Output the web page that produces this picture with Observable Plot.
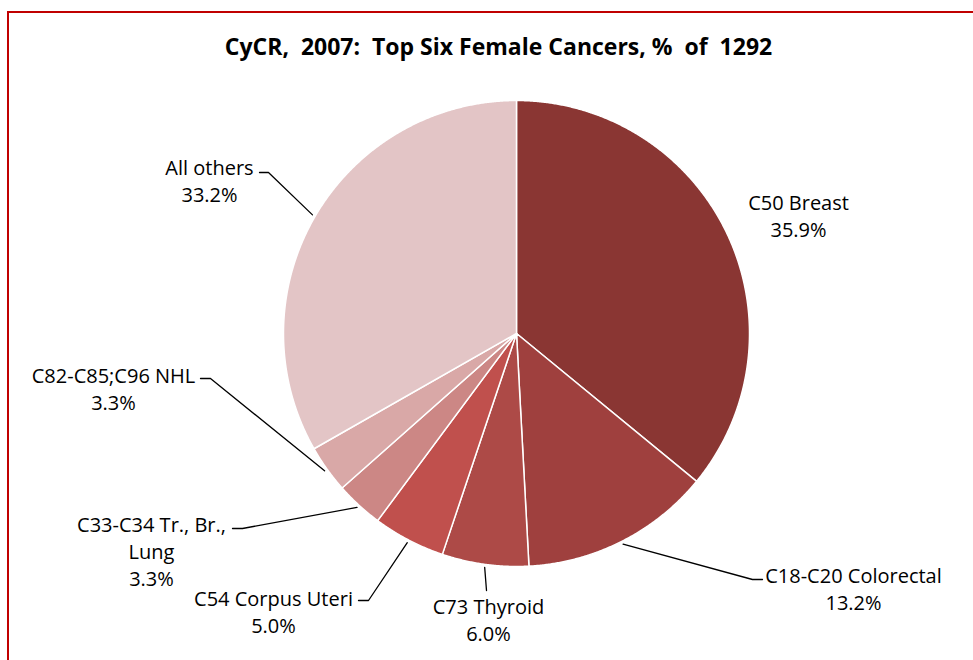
<!DOCTYPE html>
<html><head><meta charset="utf-8">
<script src="https://cdn.jsdelivr.net/npm/d3@7"></script>
<script src="https://cdn.jsdelivr.net/npm/@observablehq/plot@0.6"></script>
<style>
body{margin:0;background:#fff;overflow:hidden;}
#wrap{position:relative;width:973px;height:660px;overflow:hidden;}
#border{position:absolute;left:7px;top:11px;width:1000px;height:700px;border:2px solid #C00000;box-sizing:border-box;}
#chart{position:absolute;left:0;top:0;}
svg text{white-space:pre;}
</style></head><body>
<div id="wrap"><div id="border"></div><div id="chart"></div></div>
<script>
// ---- data ----
const title = "CyCR,  2007:  Top Six Female Cancers, %  of  1292";
const categories = ["C50 Breast", "C18-C20 Colorectal", "C73 Thyroid", "C54 Corpus Uteri", "C33-C34 Tr., Br.,\nLung", "C82-C85;C96 NHL", "All others"];
const percents = [35.9, 13.2, 6.0, 5.0, 3.3, 3.3, 33.2];

// ---- styles / layout ----
const colors = ["#8A3633", "#9F403E", "#AD4A47", "#C0504D", "#CC8785", "#D9A8A7", "#E3C5C6"];
const W = 973, H = 660, cx = 516, cy = 333, R = 233;
const labelPos = [[798, 214], [853, 587], [488, 618], [273, 610], [151, 550], [113, 387], [209, 179]];
const leaderPath = [null, [[752, 579], [762, 579]], [[486, 590]], [[368, 600], [358, 600]], [[242, 528], [232, 528]], [[210, 378], [200, 378]], [[268, 172], [259, 172]]];
const titlePos = [498, 47];
const FONT = "'Open Sans', 'Noto Sans', sans-serif";

const rows = categories.map((c, i) => ({name: c, value: percents[i], i}));
const arcs = d3.pie().sort(null).value(d => d.value).startAngle(0).endAngle(2 * Math.PI)(rows);

const pt = (a, r) => [cx + r * Math.sin(a), cy - r * Math.cos(a)];

const slicePts = [];
for (const a of arcs) {
  const name = a.data.name;
  slicePts.push({name, x: cx, y: cy});
  const n = Math.max(2, Math.ceil((a.endAngle - a.startAngle) / 0.005));
  for (let k = 0; k <= n; k++) {
    const ang = a.startAngle + (a.endAngle - a.startAngle) * k / n;
    const [x, y] = pt(ang, R);
    slicePts.push({name, x, y});
  }
}

const leaderPts = [];
arcs.forEach((a, i) => {
  if (!leaderPath[i]) return;
  const mid = (a.startAngle + a.endAngle) / 2;
  const [sx, sy] = pt(mid, R + 3);
  leaderPts.push({id: i, x: sx, y: sy});
  for (const [x, y] of leaderPath[i]) leaderPts.push({id: i, x, y});
});

const labels = rows.map((d, i) => ({
  x: labelPos[i][0], y: labelPos[i][1],
  text: d.name + "\n" + d3.format(".1f")(d.value) + "%"
}));

const chart = Plot.plot({
  width: W, height: H,
  margin: 0,
  x: {domain: [0, W], range: [0, W], axis: null},
  y: {domain: [0, H], range: [0, H], axis: null},
  color: {domain: categories, range: colors},
  style: {background: "transparent", fontFamily: FONT, overflow: "visible"},
  marks: [
    Plot.line(slicePts, {x: "x", y: "y", z: "name", fill: "name", stroke: "#fff", strokeWidth: 1.5, curve: "linear-closed", strokeLinejoin: "round"}),
    Plot.line(leaderPts, {x: "x", y: "y", z: "id", stroke: "#000", strokeWidth: 1.3}),
    Plot.text(labels, {x: "x", y: "y", text: "text", fontSize: 20, lineHeight: 1.36, fill: "#000", fontFamily: FONT}),
    Plot.text([title], {x: () => titlePos[0], y: () => titlePos[1], text: d => d, fontSize: 23, fontWeight: "bold", fill: "#000", fontFamily: FONT})
  ]
});
document.getElementById("chart").appendChild(chart);
</script>
</body></html>
